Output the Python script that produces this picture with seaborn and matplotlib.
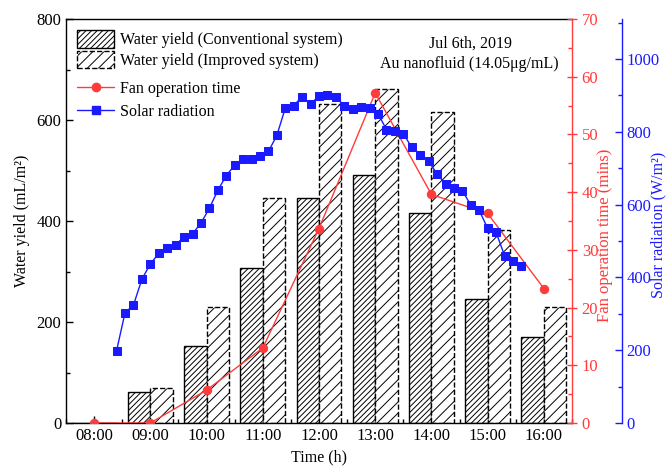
import matplotlib
matplotlib.use('Agg')
import matplotlib.pyplot as plt
import seaborn as sns
import pandas as pd
from matplotlib.ticker import MultipleLocator
from matplotlib.patches import Patch
from matplotlib.lines import Line2D

# ---------------- data ----------------
hours = [8, 9, 10, 11, 12, 13, 14, 15, 16]
hour_labels = ['08:00', '09:00', '10:00', '11:00', '12:00', '13:00', '14:00', '15:00', '16:00']
yield_conv = [0, 61, 153, 307, 446, 491, 415, 246, 170]
yield_impr = [0, 69, 230, 446, 632, 661, 615, 383, 230]
fan_time = [0, 0, 5.7, 13.0, 33.7, 57.2, 39.6, 36.3, 23.3]

solar_clock = ['08:24', '08:33', '08:42', '08:51', '09:00', '09:09', '09:18', '09:27', '09:36',
               '09:45', '09:54', '10:03', '10:12', '10:21', '10:30', '10:39', '10:48', '10:57',
               '11:06', '11:15', '11:24', '11:33', '11:42', '11:51', '12:00', '12:09', '12:18',
               '12:27', '12:36', '12:45', '12:54', '13:03', '13:12', '13:21', '13:30', '13:39',
               '13:48', '13:57', '14:06', '14:15', '14:24', '14:33', '14:42', '14:51', '15:00',
               '15:09', '15:18', '15:27', '15:36']
solar_values = [199, 303, 324, 395, 437, 466, 482, 489, 512,
                520, 549, 590, 639, 680, 708, 725, 725, 734,
                746, 790, 865, 872, 897, 876, 899, 902, 895,
                872, 862, 868, 865, 850, 806, 801, 795, 757,
                737, 719, 684, 657, 647, 638, 599, 584, 535,
                524, 460, 445, 430]

# ---------------- style ----------------
sns.set_theme(style='ticks')
plt.rcParams['font.family'] = ['Liberation Serif', 'DejaVu Serif']
plt.rcParams['hatch.linewidth'] = 0.7
plt.rcParams['axes.edgecolor'] = 'black'
plt.rcParams['axes.linewidth'] = 1.0
plt.rcParams['xtick.color'] = 'black'
plt.rcParams['ytick.color'] = 'black'
plt.rcParams['text.color'] = 'black'
plt.rcParams['axes.labelcolor'] = 'black'

RED = '#FF3B3B'
BLUE = '#1A1AFF'
FS_TICK = 12
FS_LAB = 11.5

fig = plt.figure(figsize=(6.68, 4.66), dpi=100)
ax = fig.add_axes([66 / 668, 1 - 423 / 466, 506 / 668, 404 / 466])

# bars
bw = 0.4
x_conv = [h - bw / 2 for h in hours]
x_impr = [h + bw / 2 for h in hours]
ax.bar(x_conv, yield_conv, width=bw, facecolor='white', edgecolor='black',
       hatch='//////', linewidth=1.0, zorder=2)
ax.bar(x_impr, yield_impr, width=bw, facecolor='white', edgecolor='black',
       hatch='///', linewidth=1.0, linestyle='--', zorder=2)

ax.set_xlim(7.5, 16.5)
ax.set_ylim(0, 800)
ax.set_xticks(hours)
ax.set_xticklabels(hour_labels)
ax.xaxis.set_minor_locator(MultipleLocator(0.5))
ax.yaxis.set_major_locator(MultipleLocator(200))
ax.yaxis.set_minor_locator(MultipleLocator(100))
ax.tick_params(axis='both', which='major', direction='in', length=5, width=1,
               labelsize=FS_TICK, top=False, right=False)
ax.tick_params(axis='both', which='minor', direction='in', length=3, width=1,
               top=False, right=False)
ax.set_xlabel('Time (h)', fontsize=FS_LAB, labelpad=4)
ax.set_ylabel('Water yield (mL/m\u00b2)', fontsize=FS_LAB)
ax.yaxis.set_label_coords(-0.072, 0.5)
ax.spines['right'].set_visible(False)

# fan operation time (red axis)
ax2 = ax.twinx()
fan_df = pd.DataFrame({'t': hours, 'v': fan_time})
sns.lineplot(data=fan_df, x='t', y='v', ax=ax2, color=RED, marker='o', markersize=6,
             markeredgecolor=RED, linewidth=1.0, zorder=3)
ax2.set_ylim(0, 70)
ax2.set_xlim(7.5, 16.5)
ax2.yaxis.set_major_locator(MultipleLocator(10))
ax2.yaxis.set_minor_locator(MultipleLocator(5))
ax2.spines['right'].set_color(RED)
ax2.spines['left'].set_visible(False)
ax2.spines['top'].set_visible(False)
ax2.spines['bottom'].set_visible(False)
ax2.tick_params(axis='y', which='major', direction='inout', length=7, width=1,
                colors=RED, labelsize=FS_TICK)
ax2.tick_params(axis='y', which='minor', direction='in', length=3, width=1, colors=RED)
ax2.set_ylabel('Fan operation time (mins)', color=RED, fontsize=12)
ax2.yaxis.set_label_coords((597 - 66) / 506, 0.465)

# solar radiation (blue axis)
ax3 = ax.twinx()
solar_hours = [int(s[:2]) + int(s[3:]) / 60 for s in solar_clock]
solar_df = pd.DataFrame({'t': solar_hours, 'v': solar_values})
sns.lineplot(data=solar_df, x='t', y='v', ax=ax3, color=BLUE, marker='s', markersize=5.3,
             markeredgecolor=BLUE, linewidth=1.0, zorder=4)
ax3.set_ylim(0, 1110)
ax3.set_xlim(7.5, 16.5)
ax3.spines['right'].set_position(('outward', 36))
ax3.spines['right'].set_color(BLUE)
ax3.spines['left'].set_visible(False)
ax3.spines['top'].set_visible(False)
ax3.spines['bottom'].set_visible(False)
ax3.yaxis.set_major_locator(MultipleLocator(200))
ax3.yaxis.set_minor_locator(MultipleLocator(100))
ax3.tick_params(axis='y', which='major', direction='in', length=5, width=1,
                colors=BLUE, labelsize=FS_TICK, pad=3)
ax3.tick_params(axis='y', which='minor', direction='in', length=3, width=1, colors=BLUE)
ax3.set_ylabel('Solar radiation (W/m\u00b2)', color=BLUE, fontsize=11.5)
ax3.yaxis.set_label_coords((650 - 66) / 506, 0.49)

for a in (ax2, ax3):
    a.set_xlabel('')

# legends
h1 = [Patch(facecolor='white', edgecolor='black', hatch='//////', linewidth=1.0),
      Patch(facecolor='white', edgecolor='black', hatch='///', linewidth=1.0, linestyle='--')]
leg1 = ax3.legend(h1, ['Water yield (Conventional system)', 'Water yield (Improved system)'],
                  loc='upper left', bbox_to_anchor=(0.0, 1.0), frameon=False,
                  fontsize=FS_LAB, handlelength=2.3, handleheight=1.3,
                  handletextpad=0.35, borderaxespad=0.3, labelspacing=0.15)
ax3.add_artist(leg1)
h2 = [Line2D([0], [0], color=RED, marker='o', markersize=6, linewidth=1.0),
      Line2D([0], [0], color=BLUE, marker='s', markersize=5.3, linewidth=1.0)]
ax3.legend(h2, ['Fan operation time', 'Solar radiation'], loc='upper left',
           bbox_to_anchor=(0.0, 0.875), frameon=False, fontsize=FS_LAB,
           handlelength=2.3, handletextpad=0.35, borderaxespad=0.3, labelspacing=0.45)

ax3.text(0.80, 0.938, 'Jul 6th, 2019', transform=ax3.transAxes, ha='center', va='center',
         fontsize=FS_LAB)
ax3.text(0.798, 0.889, 'Au nanofluid (14.05\u03bcg/mL)', transform=ax3.transAxes,
         ha='center', va='center', fontsize=FS_LAB)

fig.savefig('out.png', dpi=100)
